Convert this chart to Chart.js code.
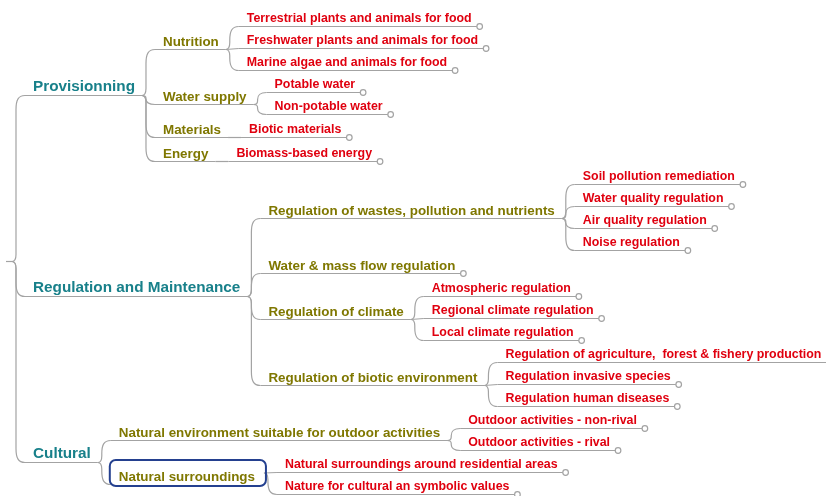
<!DOCTYPE html>
<html>
<head>
<meta charset="utf-8">
<script src="https://cdn.jsdelivr.net/npm/chart.js@4.4.0/dist/chart.umd.min.js"></script>
<style>
    html, body { margin: 0; padding: 0; background: #fff; }
</style>
</head>
<body>
<canvas id="map" width="826" height="496"></canvas>
<script>
// tree content: three groups, their classes, and the services under each class
const GROUPS = ["Provisionning", "Regulation and Maintenance", "Cultural"];
const CLASSES = [
    "Nutrition", "Water supply", "Materials", "Energy",
    "Regulation of wastes, pollution and nutrients", "Water & mass flow regulation",
    "Regulation of climate", "Regulation of biotic environment",
    "Natural environment suitable for outdoor activities", "Natural surroundings"
];
const CLASS_GROUP = [0, 0, 0, 0, 1, 1, 1, 1, 2, 2];
const SERVICES = [
    "Terrestrial plants and animals for food",
    "Freshwater plants and animals for food",
    "Marine algae and animals for food",
    "Potable water",
    "Non-potable water",
    "Biotic materials",
    "Biomass-based energy",
    "Soil pollution remediation",
    "Water quality regulation",
    "Air quality regulation",
    "Noise regulation",
    "Atmospheric regulation",
    "Regional climate regulation",
    "Local climate regulation",
    "Regulation of agriculture,  forest & fishery production",
    "Regulation invasive species",
    "Regulation human diseases",
    "Outdoor activities - non-rival",
    "Outdoor activities - rival",
    "Natural surroundings around residential areas",
    "Nature for cultural an symbolic values"
];
const SERVICE_CLASS = [0, 0, 0, 1, 1, 2, 3, 4, 4, 4, 4, 6, 6, 6, 7, 7, 7, 8, 8, 9, 9];
const HIGHLIGHTED = ["Natural surroundings"];

// styles
const FAMILY = '"Liberation Sans", Arial, sans-serif';
const FONTS = { 1: "bold 15.3px " + FAMILY, 2: "bold 13.4px " + FAMILY, 3: "bold 12.4px " + FAMILY };
const COLORS = { 1: "#18808a", 2: "#7f7700", 3: "#e0000f" };
const BASE_OFF = { 1: 5, 2: 4, 3: 5 };
const LINE = "#a3a3a3";
const BOX = "#24408f";

// build the tree
const root = { level: 0, children: [] };
const groupNodes = GROUPS.map(function (l) { return { label: l, level: 1, children: [] }; });
root.children = groupNodes;
const classNodes = CLASSES.map(function (l, i) {
    const n = { label: l, level: 2, children: [] };
    groupNodes[CLASS_GROUP[i]].children.push(n);
    return n;
});
SERVICES.forEach(function (l, i) {
    classNodes[SERVICE_CLASS[i]].children.push({ label: l, level: 3, children: [] });
});

// layout
const measure = document.createElement("canvas").getContext("2d");
function textWidth(s, level) {
    measure.font = FONTS[level];
    return measure.measureText(s).width;
}

let cursor = 13.5;
function placeY(node, parent) {
    if (!node.children.length) {
        const slot = (node.level === 2 || parent.children.length === 1) ? 24 : 22;
        node.top = cursor;
        cursor += slot;
        node.bottom = cursor;
        node.y = node.top + slot / 2 + 2;
        return;
    }
    node.children.forEach(function (c) { placeY(c, node); });
    node.top = node.children[0].top;
    node.bottom = node.children[node.children.length - 1].bottom;
    node.y = node.children.length === 1 ? node.children[0].y : (node.top + node.bottom) / 2 + 3;
}
placeY(root, null);

root.outX = 12;
root.outY = root.y;
function placeX(node) {
    node.children.forEach(function (c) {
        c.lineStart = node.outX + 13;
        c.x = node.outX + 21;
        c.textEnd = c.x + textWidth(c.label, c.level);
        c.baseline = c.y - BASE_OFF[c.level];
        c.end = c.children.length ? c.textEnd + 7 : c.textEnd + 8;
        c.outX = c.end;
        c.outY = c.y;
        if (HIGHLIGHTED.indexOf(c.label) >= 0) {
            c.box = { x0: c.x - 9, x1: c.textEnd + 11, y0: c.baseline - 20.5, y1: c.baseline + 5.5 };
            c.outX = c.box.x1 - 2;
            c.outY = (c.box.y0 + c.box.y1) / 2;
        }
        placeX(c);
    });
}
placeX(root);

const allNodes = [];
(function walk(n) { n.children.forEach(function (c) { allNodes.push(c); walk(c); }); })(root);

// one dataset per underline, leaves end with a small knob
const datasets = [{
    data: [{ x: 6, y: root.y }, { x: root.outX, y: root.y }],
    borderColor: LINE, borderWidth: 1.2, pointRadius: 0, showLine: true
}];
allNodes.forEach(function (n) {
    if (n.box) { return; }
    const leaf = !n.children.length;
    datasets.push({
        data: [{ x: n.lineStart, y: n.y }, { x: n.end, y: n.y }],
        showLine: true,
        borderColor: LINE,
        borderWidth: 1.2,
        pointRadius: leaf ? [0, 2.8] : 0,
        pointBorderColor: LINE,
        pointBorderWidth: 1.2,
        pointBackgroundColor: "#fff"
    });
});

const connectorPlugin = {
    id: "connectors",
    beforeDatasetsDraw(chart) {
        const ctx = chart.ctx;
        const xs = chart.scales.x, ys = chart.scales.y;
        ctx.save();
        ctx.strokeStyle = LINE;
        ctx.lineWidth = 1.2;
        function link(p, c) {
            const x0 = xs.getPixelForValue(p.outX), y0 = ys.getPixelForValue(p.outY);
            const x1 = xs.getPixelForValue(c.lineStart), y1 = ys.getPixelForValue(c.y);
            const dy = y1 - y0, a = Math.abs(dy), d = Math.sign(dy);
            ctx.beginPath();
            ctx.moveTo(x0, y0);
            if (a < 1.5) {
                ctx.lineTo(x1, y1);
            } else {
                const sx = x0 + 4;
                const r1 = Math.min(7, a * 0.3);
                const r2 = Math.min(14, a * 0.6);
                ctx.quadraticCurveTo(sx, y0, sx, y0 + d * r1);
                ctx.lineTo(sx, y1 - d * r2);
                ctx.bezierCurveTo(sx, y1 - d * r2 * 0.35, sx + 2, y1, x1, y1);
            }
            ctx.stroke();
        }
        (function walk(n) {
            n.children.forEach(function (c) { link(n, c); walk(c); });
        })(root);
        ctx.restore();
    }
};

const labelPlugin = {
    id: "labels",
    afterDatasetsDraw(chart) {
        const ctx = chart.ctx;
        const xs = chart.scales.x, ys = chart.scales.y;
        ctx.save();
        ctx.textBaseline = "alphabetic";
        ctx.textAlign = "left";
        allNodes.forEach(function (n) {
            ctx.font = FONTS[n.level];
            ctx.fillStyle = COLORS[n.level];
            ctx.fillText(n.label, xs.getPixelForValue(n.x), ys.getPixelForValue(n.baseline));
            if (n.box) {
                const bx = xs.getPixelForValue(n.box.x0), by = ys.getPixelForValue(n.box.y0);
                const bw = xs.getPixelForValue(n.box.x1) - bx, bh = ys.getPixelForValue(n.box.y1) - by;
                ctx.strokeStyle = BOX;
                ctx.lineWidth = 2;
                ctx.beginPath();
                ctx.roundRect(bx, by, bw, bh, 6);
                ctx.stroke();
            }
        });
        ctx.restore();
    }
};

new Chart(document.getElementById("map").getContext("2d"), {
    type: "scatter",
    data: { datasets: datasets },
    options: {
        responsive: false,
        animation: false,
        layout: { padding: 0, autoPadding: false },
        scales: {
            x: { type: "linear", min: 0, max: 826, display: false },
            y: { type: "linear", min: 0, max: 496, reverse: true, display: false }
        },
        plugins: { legend: { display: false }, tooltip: { enabled: false } }
    },
    plugins: [connectorPlugin, labelPlugin]
});
</script>
</body>
</html>
